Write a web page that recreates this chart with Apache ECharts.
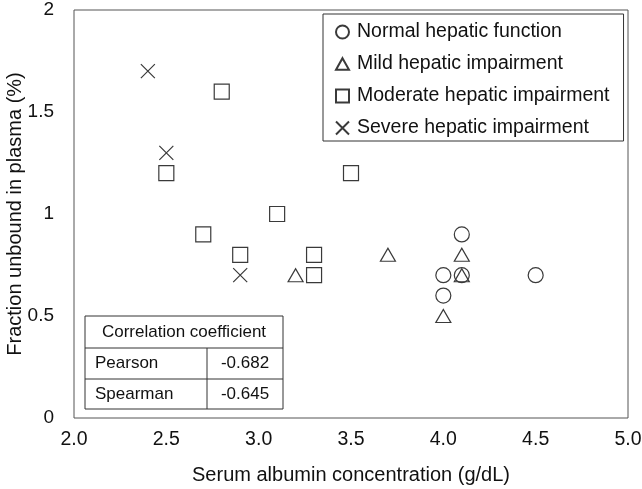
<!DOCTYPE html>
<html>
<head>
<meta charset="utf-8">
<script src="https://cdn.jsdelivr.net/npm/echarts@6/dist/echarts.min.js"></script>
<style>html,body{margin:0;padding:0;background:#fff}#c{width:642px;height:489px}</style>
</head>
<body>
<div id="c"></div>
<script>
var seriesNames = ['Normal hepatic function','Mild hepatic impairment','Moderate hepatic impairment','Severe hepatic impairment'];
var normalData = [[4.1,0.9],[4.0,0.7],[4.1,0.7],[4.0,0.6],[4.5,0.7]];
var mildData = [[3.2,0.7],[3.7,0.8],[4.1,0.8],[4.1,0.7],[4.0,0.5]];
var moderateData = [[2.8,1.6],[2.5,1.2],[2.7,0.9],[2.9,0.8],[3.1,1.0],[3.3,0.8],[3.3,0.7],[3.5,1.2]];
var severeData = [[2.4,1.7],[2.5,1.3],[2.9,0.7]];
var xTicks = [2.0,2.5,3.0,3.5,4.0,4.5,5.0];
var yTicks = [0,0.5,1,1.5,2];
var tableHeader = 'Correlation coefficient';
var tableRows = [['Pearson','-0.682'],['Spearman','-0.645']];

var FONT = 'Liberation Sans, Arial, sans-serif';
var stroke = '#3a3a3a';
var symbols = ['circle',
  'path://M5,0 L10,9 L0,9 Z',
  'rect',
  'path://M0,0 L10,10 M10,0 L0,10'];
var sizes = [15,[15,13],15,14];
var datas = [normalData, mildData, moderateData, severeData];

var chart = echarts.init(document.getElementById('c'), null, {renderer:'canvas'});
var series = datas.map(function(d,i){
  return {
    name: seriesNames[i], type:'scatter', data:d,
    symbol: symbols[i], symbolSize: sizes[i],
    itemStyle:{color:'rgba(0,0,0,0)', borderColor:stroke, borderWidth:1.2, opacity:1},
    emphasis:{disabled:true}, z:3
  };
});

var tX=85, tY=316, tW=198, rHs=[32,31,30], colX=207;
var y1 = tY + rHs[0], y2 = y1 + rHs[1], y3 = y2 + rHs[2];
var g = [];
g.push({type:'rect', shape:{x:tX,y:tY,width:tW,height:y3-tY}, style:{fill:'#fff',stroke:'#333',lineWidth:1}, z:10});
g.push({type:'line', shape:{x1:tX,y1:y1,x2:tX+tW,y2:y1}, style:{stroke:'#333',lineWidth:1}, z:11});
g.push({type:'line', shape:{x1:tX,y1:y2,x2:tX+tW,y2:y2}, style:{stroke:'#333',lineWidth:1}, z:11});
g.push({type:'line', shape:{x1:colX,y1:y1,x2:colX,y2:y3}, style:{stroke:'#333',lineWidth:1}, z:11});
g.push({type:'text', x:tX+tW/2, y:(tY+y1)/2, style:{text:tableHeader, font:'17px '+FONT, fill:'#111', align:'center', verticalAlign:'middle'}, z:12});
var rowCenters = [(y1+y2)/2, (y2+y3)/2];
tableRows.forEach(function(r,i){
  var cy = rowCenters[i];
  g.push({type:'text', x:tX+10, y:cy, style:{text:r[0], font:'17px '+FONT, fill:'#111', align:'left', verticalAlign:'middle'}, z:12});
  g.push({type:'text', x:(colX+tX+tW)/2, y:cy, style:{text:r[1], font:'17px '+FONT, fill:'#111', align:'center', verticalAlign:'middle'}, z:12});
});

chart.setOption({
  backgroundColor:'#fff',
  animation:false,
  textStyle:{fontFamily:FONT},
  grid:{left:74, right:14, top:10, bottom:71, show:true, borderColor:'#555', borderWidth:1, containLabel:false, outerBoundsMode:'none'},
  legend:{
    orient:'vertical', left:323, top:14,
    data: seriesNames,
    itemWidth:13, itemHeight:13, itemGap:12,
    padding:[8,14,3,12],
    borderColor:'#333', borderWidth:1, backgroundColor:'#fff',
    textStyle:{fontSize:19.5, color:'#111', fontFamily:FONT, padding:[0,0,0,3]},
    selectedMode:false, z:5
  },
  xAxis:{
    type:'value', min:2, max:5, interval:0.5,
    name:'Serum albumin concentration (g/dL)', nameLocation:'middle', nameGap:47,
    nameTextStyle:{fontSize:20, color:'#111', fontFamily:FONT},
    axisLine:{show:false}, axisTick:{show:false}, splitLine:{show:false},
    axisLabel:{fontSize:19.5, color:'#111', margin:12, fontFamily:FONT, formatter:function(v){return v.toFixed(1);}}
  },
  yAxis:{
    type:'value', min:0, max:2, interval:0.5,
    name:'Fraction unbound in plasma (%)', nameLocation:'middle', nameGap:49, nameMoveOverlap:false,
    nameTextStyle:{fontSize:20, color:'#111', fontFamily:FONT},
    axisLine:{show:false}, axisTick:{show:false}, splitLine:{show:false},
    axisLabel:{fontSize:19, color:'#111', margin:20, fontFamily:FONT}
  },
  series: series,
  graphic: g
});
</script>
</body>
</html>
